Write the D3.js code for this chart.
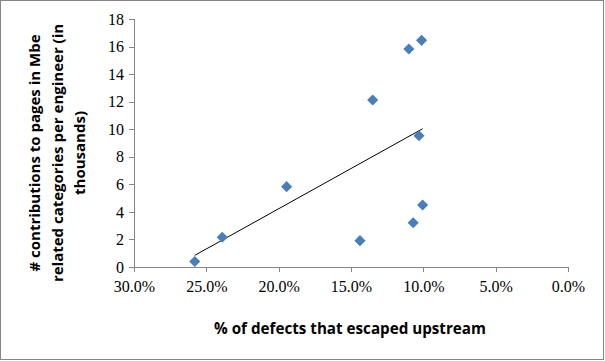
<!DOCTYPE html>
<html><head><meta charset="utf-8">
<script src="https://cdn.jsdelivr.net/npm/d3@7"></script>
<style>body{margin:0;background:#fff}svg{display:block}</style>
</head><body>
<svg id="c" width="605" height="361"></svg>
<script>
const xValues = [25.8, 23.9, 19.45, 14.38, 13.5, 11.0, 10.12, 10.3, 10.7, 10.05];
const yValues = [0.4, 2.16, 5.83, 1.91, 12.12, 15.82, 16.45, 9.53, 3.21, 4.5];
const xTicks = [30, 25, 20, 15, 10, 5, 0];
const yTicks = [0, 2, 4, 6, 8, 10, 12, 14, 16, 18];
const xTitle = "% of defects that escaped upstream";
const yTitleLines = ["# contributions to pages in Mbe", "related categories per engineer (in", "thousands)"];

const svg = d3.select("#c");
svg.append("rect").attr("x",0.5).attr("y",0.5).attr("width",603).attr("height",359)
  .attr("fill","#fff").attr("stroke","#868686");

const x = d3.scaleLinear().domain([30,0]).range([134,568]);
const y = d3.scaleLinear().domain([0,18]).range([267,19]);
const axisColor = "#868686";
const tickFont = "'Liberation Serif', serif";

const yAx = svg.append("g").attr("transform","translate(134,0)")
  .call(d3.axisLeft(y).tickValues(yTicks).tickSize(5).tickPadding(5).tickFormat(d3.format("d")));
const xAx = svg.append("g").attr("transform","translate(0,267)")
  .call(d3.axisBottom(x).tickValues(xTicks).tickSize(5).tickPadding(9).tickFormat(d=>d.toFixed(1)+"%"));
[yAx,xAx].forEach(g=>{
  g.selectAll("path,line").attr("stroke",axisColor).attr("shape-rendering","crispEdges");
  g.selectAll("text").attr("font-family",tickFont).attr("font-size",16).attr("fill","#000");
});

// linear trendline (least squares) over data range
const n = xValues.length;
const mx = d3.mean(xValues), my = d3.mean(yValues);
let sxy=0, sxx=0;
for(let i=0;i<n;i++){sxy+=(xValues[i]-mx)*(yValues[i]-my);sxx+=(xValues[i]-mx)**2;}
const slope = sxy/sxx, icpt = my - slope*mx;
const x0 = d3.max(xValues), x1 = d3.min(xValues);
svg.append("line").attr("x1",x(x0)).attr("y1",y(icpt+slope*x0))
  .attr("x2",x(x1)).attr("y2",y(icpt+slope*x1)).attr("stroke","#000").attr("stroke-width",1);

const sym = d3.symbol().type(d3.symbolSquare).size(62);
svg.append("g").selectAll("path").data(d3.range(n)).join("path")
  .attr("d",sym)
  .attr("transform",i=>`translate(${x(xValues[i])},${y(yValues[i])}) rotate(45)`)
  .attr("fill","#4A7EBB");

const titleFont = "'Open Sans', 'Noto Sans', sans-serif";
svg.append("text").attr("x",350).attr("y",334).attr("text-anchor","middle")
  .attr("font-family",titleFont).attr("font-weight","bold").attr("font-size",15.2).text(xTitle);

const yt = svg.append("text").attr("transform","translate(0,153) rotate(-90)")
  .attr("text-anchor","middle").attr("font-family",titleFont).attr("font-weight","bold").attr("font-size",15);
yTitleLines.forEach((t,i)=>{
  yt.append("tspan").attr("x",0).attr("y",40+i*22.5).text(t);
});
</script>
</body></html>
